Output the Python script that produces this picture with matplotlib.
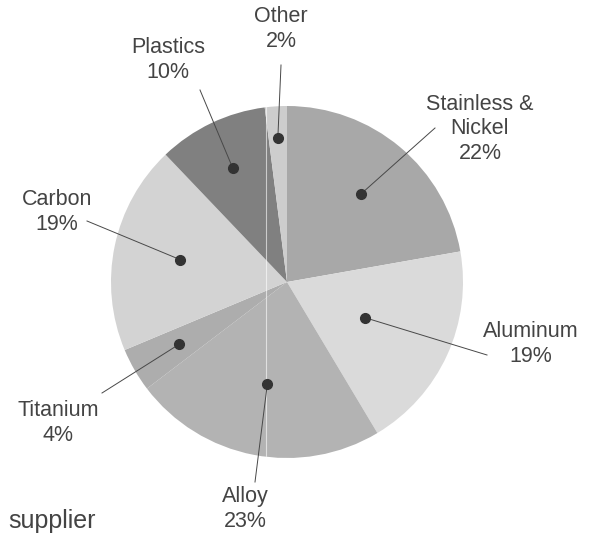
import numpy as np
import matplotlib
matplotlib.use('Agg')
import matplotlib.pyplot as plt

# data
materials = ['Stainless &\nNickel', 'Aluminum', 'Alloy', 'Titanium', 'Carbon', 'Plastics', 'Other']
shares = [22, 19, 23, 4, 19, 10, 2]
title = 'supplier'

# styling / layout
colors = ['#a8a8a8', '#dadada', '#b3b3b3', '#adadad', '#d3d3d3', '#808080', '#cdcdcd']
dot_frac = [0.65, 0.49, 0.59, 0.71, 0.62, 0.72, 0.82]
# label text centre (px from top-left) and where the leader line ends
label_xy = [(480, 129), (531, 344), (245, 509), (58, 423), (57, 212), (168, 60), (281, 29)]
line_end = [(435, 128), (487, 355), (255, 482), (102, 393), (87, 221), (200, 90), (281, 65)]

W, H = 600, 538
cx, cy, R = 287, 282, 176

plt.rcParams['font.family'] = ['Liberation Sans', 'DejaVu Sans']

fig = plt.figure(figsize=(6, 5.38), dpi=100)
ax = fig.add_axes([0, 0, 1, 1])

wedges, _ = ax.pie(shares, colors=colors, startangle=90, counterclock=False,
                   center=(cx, H - cy), radius=R, frame=True,
                   wedgeprops=dict(linewidth=0))
ax.set_xlim(0, W)
ax.set_ylim(0, H)
ax.set_aspect('equal')
ax.axis('off')

# faint white seam running through the pie
seam, = ax.plot([266, 266], [H - cy - R, H - cy + R], color='white', lw=0.8, alpha=0.6)
seam.set_clip_path(plt.Circle((cx, H - cy), R, transform=ax.transData))

for w, f, lab, le, name, pct in zip(wedges, dot_frac, label_xy, line_end, materials, shares):
    mid = np.deg2rad((w.theta1 + w.theta2) / 2)
    dx = cx + f * R * np.cos(mid)
    dy = (H - cy) + f * R * np.sin(mid)
    ax.plot([dx, le[0]], [dy, H - le[1]], color='#484848', lw=0.7)
    ax.plot(dx, dy, 'o', color='#333333', markersize=7)
    ax.text(lab[0], H - lab[1], name + '\n' + str(pct) + '%', ha='center', va='center',
            fontsize=15.5, color='#444444', linespacing=1.2)

ax.text(8, H - 521, title, ha='left', va='center', fontsize=18, color='#444444')

fig.savefig('out.png', dpi=100)
